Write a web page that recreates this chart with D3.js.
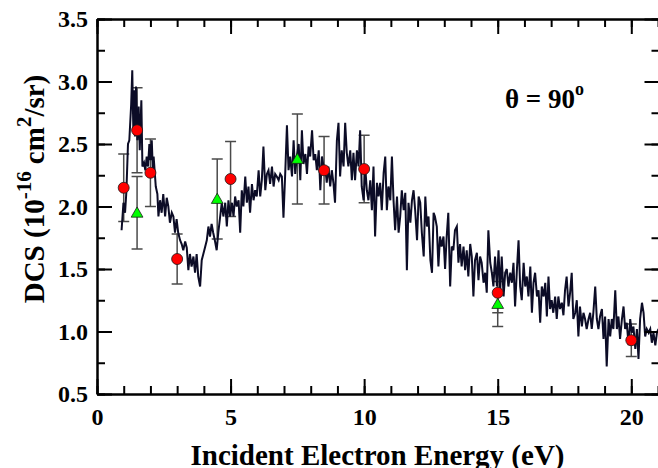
<!DOCTYPE html>
<html lang="en">
<style>
body { margin: 0; background: white; }
svg { display: block; background: white; }
text { font-family: "Liberation Serif", "Times New Roman", serif; font-weight: bold; fill: black; }
.axis path, .axis line { stroke: black; stroke-width: 2px; }
.axis text { font-size: 24px; font-family: "Liberation Serif", "Times New Roman", serif; font-weight: bold; }
.errbar { stroke: #4a4a4a; stroke-width: 1.5px; fill: none; }
</style>
<svg width="658" height="468"></svg>
<script src="https://d3js.org/d3.v7.min.js"></script>
<script>
// measured cross section (noisy curve)
var curveE = [0.92,0.99,1.05,1.10,1.16,1.21,1.28,1.32,1.36,1.39,1.42,1.46,1.51,1.56,1.60,1.66,1.70,1.76,1.81,1.86,
  1.91,1.96,2.00,2.05,2.09,2.12,2.20,2.26,2.30,2.36,2.42,2.48,2.55,2.61,2.67,2.73,2.80,2.86,2.92,2.98,
  3.04,3.11,3.17,3.23,3.30,3.36,3.42,3.48,3.54,3.61,3.67,3.73,3.79,3.86,3.92,3.98,4.04,4.11,4.17,4.23,
  4.29,4.35,4.42,4.48,4.54,4.60,4.67,4.73,4.80,4.86,4.92,4.98,5.05,5.11,5.17,5.23,5.30,5.36,5.42,5.48,
  5.55,5.61,5.67,5.73,5.80,5.86,5.92,5.98,6.05,6.11,6.17,6.23,6.30,6.36,6.42,6.48,6.55,6.61,6.67,6.73,
  6.80,6.86,6.92,6.98,7.05,7.11,7.17,7.23,7.30,7.36,7.42,7.48,7.55,7.61,7.67,7.73,7.80,7.86,7.92,7.98,
  8.05,8.11,8.17,8.23,8.30,8.36,8.42,8.48,8.54,8.60,8.66,8.73,8.79,8.85,8.91,8.98,9.04,9.10,9.16,9.23,
  9.29,9.35,9.41,9.48,9.54,9.60,9.66,9.73,9.79,9.85,9.91,9.98,10.04,10.10,10.16,10.23,10.29,10.35,10.41,10.48,
  10.54,10.60,10.66,10.73,10.79,10.85,10.91,10.98,11.04,11.10,11.16,11.23,11.29,11.35,11.41,11.48,11.54,11.60,11.66,11.73,
  11.79,11.85,11.91,11.98,12.04,12.10,12.16,12.23,12.29,12.35,12.41,12.48,12.54,12.60,12.65,12.72,12.78,12.84,12.90,12.97,
  13.03,13.09,13.15,13.22,13.28,13.34,13.40,13.47,13.53,13.59,13.65,13.72,13.78,13.84,13.90,13.97,14.03,14.09,14.15,14.22,
  14.28,14.34,14.40,14.47,14.53,14.59,14.65,14.72,14.78,14.84,14.90,14.97,15.03,15.09,15.15,15.22,15.28,15.34,15.40,15.47,
  15.53,15.59,15.65,15.72,15.78,15.84,15.90,15.97,16.03,16.09,16.15,16.22,16.28,16.34,16.40,16.47,16.53,16.59,16.65,16.72,
  16.78,16.84,16.90,16.96,17.02,17.08,17.15,17.21,17.27,17.33,17.40,17.46,17.52,17.58,17.65,17.71,17.77,17.83,17.90,17.96,
  18.02,18.08,18.15,18.21,18.27,18.33,18.40,18.46,18.52,18.58,18.65,18.71,18.77,18.83,18.90,18.96,19.02,19.08,19.15,19.21,
  19.27,19.33,19.40,19.46,19.52,19.58,19.65,19.71,19.77,19.83,19.90,19.96,20.02,20.08,20.15,20.21,20.27,20.33,20.40,20.46,
  20.52,20.58,20.65,20.71,20.77,20.83,20.90,20.96,21.02];
var curveDCS = [1.81,2.03,1.95,2.12,2.50,2.53,2.82,3.09,2.61,2.93,2.56,2.96,2.53,2.80,2.45,2.85,2.32,2.35,2.29,2.40,
  2.32,2.50,2.37,2.53,2.29,2.40,2.16,2.10,1.92,2.05,1.95,2.10,1.92,2.07,2.00,1.87,1.95,1.92,1.79,1.90,
  1.79,1.73,1.70,1.65,1.72,1.67,1.49,1.62,1.52,1.60,1.47,1.62,1.44,1.36,1.57,1.62,1.67,1.73,1.84,1.76,
  1.86,1.79,1.72,1.65,1.79,1.90,2.03,1.92,2.03,1.84,2.05,1.92,2.03,1.92,2.08,2.00,2.05,1.79,2.13,2.00,
  2.24,2.03,2.16,1.95,2.18,2.05,2.13,2.08,2.29,2.08,2.21,2.48,2.13,2.26,2.29,2.18,2.32,2.16,2.26,2.24,
  2.21,2.26,2.24,1.91,2.29,2.65,2.29,2.40,2.24,2.53,2.26,2.40,2.50,2.21,2.61,2.34,2.42,2.26,2.48,2.40,
  2.61,2.37,2.42,2.29,2.45,2.13,2.40,2.32,2.32,2.19,2.32,2.16,2.29,2.19,2.03,2.53,2.67,2.24,2.45,2.32,
  2.67,2.43,2.32,2.45,2.21,2.43,2.21,2.45,2.32,2.61,2.16,2.05,2.32,2.13,2.05,2.21,1.97,2.32,1.76,2.19,
  2.08,2.19,1.97,2.27,2.40,1.97,2.16,2.05,2.40,2.05,1.81,2.08,1.79,1.92,2.13,1.97,2.11,1.49,2.03,1.87,
  2.05,2.13,1.97,1.73,2.08,2.03,1.79,1.60,2.08,1.84,1.92,1.57,1.47,1.95,1.92,1.84,1.52,1.76,1.68,1.76,
  1.50,1.76,1.95,1.36,1.68,1.65,1.81,1.84,1.55,1.70,1.52,1.68,1.49,1.65,1.44,1.70,1.60,1.28,1.57,1.63,
  1.41,1.60,1.55,1.39,1.47,1.31,1.81,1.55,1.47,1.36,1.60,1.36,1.65,1.31,1.60,1.28,1.47,1.50,1.36,1.47,
  1.39,1.55,1.20,1.50,1.73,1.36,1.25,1.55,1.36,1.44,1.28,1.52,1.15,1.39,1.47,1.28,1.33,1.07,1.36,1.28,
  1.39,1.12,1.44,1.18,1.25,1.15,1.28,1.10,1.28,1.18,1.23,1.13,1.33,1.44,1.20,1.31,1.47,1.10,1.15,1.25,
  0.96,1.20,1.04,1.15,1.10,1.02,1.10,1.15,1.02,1.15,1.36,1.10,1.02,1.12,1.18,0.94,1.12,0.72,1.10,0.96,
  1.10,1.02,1.33,1.02,1.12,0.94,1.10,1.20,1.02,1.07,0.89,1.10,0.99,1.04,0.86,1.02,0.78,1.10,1.23,1.15,
  0.96,1.02,0.99,1.02,0.91,0.99,0.89,0.99,1.02];

// experimental points, red circles
var redE   = [1, 1.5, 2, 3, 5, 8.5, 10, 15, 20];
var redDCS = [2.15, 2.61, 2.27, 1.58, 2.22, 2.29, 2.30, 1.31, 0.93];
var redErr = [0.27, 0.34, 0.27, 0.20, 0.30, 0.27, 0.27, 0.16, 0.13];

// experimental points, green triangles
var greenE   = [1.5, 4.5, 7.5, 15];
var greenDCS = [1.95, 2.06, 2.38, 1.22];
var greenErr = [0.29, 0.32, 0.36, 0.18];

var xTicks = [0, 5, 10, 15, 20];
var yTicks = [0.5, 1.0, 1.5, 2.0, 2.5, 3.0, 3.5];

var svg = d3.select("svg");
var mLeft = 97, mRight = 658, mTop = 19, mBottom = 394;

var xScale = d3.scaleLinear().domain([0, 21]).range([mLeft, mRight]);
var yScale = d3.scaleLinear().domain([0.5, 3.5]).range([mBottom, mTop]);

svg.append("clipPath").attr("id", "clip")
    .append("rect")
    .attr("x", mLeft).attr("y", mTop)
    .attr("width", mRight - mLeft + 5).attr("height", mBottom - mTop);

var plot = svg.append("g");

function errbars(es, vs, errs) {
    var g = plot.append("g").attr("class", "errbar");
    es.forEach(function(e, i) {
        var x = xScale(e), y0 = yScale(vs[i] - errs[i]), y1 = yScale(vs[i] + errs[i]);
        g.append("line").attr("x1", x).attr("x2", x).attr("y1", y0).attr("y2", y1);
        g.append("line").attr("x1", x - 5.5).attr("x2", x + 5.5).attr("y1", y0).attr("y2", y0);
        g.append("line").attr("x1", x - 5.5).attr("x2", x + 5.5).attr("y1", y1).attr("y2", y1);
    });
}
errbars(redE, redDCS, redErr);
errbars(greenE, greenDCS, greenErr);

var line = d3.line()
    .x(function(d, i) { return xScale(curveE[i]); })
    .y(function(d) { return yScale(d); });

plot.append("path")
    .datum(curveDCS)
    .attr("clip-path", "url(#clip)")
    .attr("fill", "none")
    .attr("stroke", "#0c0c26")
    .attr("stroke-width", 2)
    .attr("d", line);

plot.selectAll("path.tri")
    .data(greenE)
    .enter().append("path")
    .attr("class", "tri")
    .attr("d", d3.symbol().type(d3.symbolTriangle).size(60))
    .attr("transform", function(d, i) { return "translate(" + xScale(d) + "," + (yScale(greenDCS[i]) + 1) + ")"; })
    .attr("fill", "#00ff00")
    .attr("stroke", "#1a1a1a")
    .attr("stroke-width", 0.8);

plot.selectAll("circle")
    .data(redE)
    .enter().append("circle")
    .attr("cx", function(d) { return xScale(d); })
    .attr("cy", function(d, i) { return yScale(redDCS[i]); })
    .attr("r", 5.5)
    .attr("fill", "#ff0000")
    .attr("stroke", "#1a1a1a")
    .attr("stroke-width", 0.8);

// axes: minor ticks first, then major ticks with labels
var xMinor = d3.range(0, 22, 1), yMinor = d3.range(0.5, 3.51, 0.25);

svg.append("g").attr("class", "axis")
    .attr("transform", "translate(0," + mBottom + ")")
    .call(d3.axisBottom(xScale).tickValues(xMinor).tickSize(-8).tickSizeOuter(0).tickFormat(""));
svg.append("g").attr("class", "axis")
    .attr("transform", "translate(0," + mBottom + ")")
    .call(d3.axisBottom(xScale).tickValues(xTicks).tickSize(-15).tickSizeOuter(0).tickPadding(14)
        .tickFormat(d3.format("d")));
svg.append("g").attr("class", "axis")
    .attr("transform", "translate(0," + mTop + ")")
    .call(d3.axisTop(xScale).tickValues(xMinor).tickSize(-8).tickSizeOuter(0).tickFormat(""));
svg.append("g").attr("class", "axis")
    .attr("transform", "translate(0," + mTop + ")")
    .call(d3.axisTop(xScale).tickValues(xTicks).tickSize(-15).tickSizeOuter(0).tickFormat(""));

svg.append("g").attr("class", "axis")
    .attr("transform", "translate(" + mLeft + ",0)")
    .call(d3.axisLeft(yScale).tickValues(yMinor).tickSize(-8).tickSizeOuter(0).tickFormat(""));
svg.append("g").attr("class", "axis")
    .attr("transform", "translate(" + mLeft + ",0)")
    .call(d3.axisLeft(yScale).tickValues(yTicks).tickSize(-15).tickSizeOuter(0).tickPadding(9)
        .tickFormat(d3.format(".1f")));
svg.append("g").attr("class", "axis")
    .attr("transform", "translate(" + (mRight + 1.5) + ",0)")
    .call(d3.axisRight(yScale).tickValues(yMinor).tickSize(-8).tickSizeOuter(0).tickFormat(""));
svg.append("g").attr("class", "axis")
    .attr("transform", "translate(" + (mRight + 1.5) + ",0)")
    .call(d3.axisRight(yScale).tickValues(yTicks).tickSize(-15).tickSizeOuter(0).tickFormat(""));

svg.selectAll(".axis .tick text").attr("fill", "black");

// titles
svg.append("text")
    .attr("x", (mLeft + mRight) / 2)
    .attr("y", 465)
    .attr("text-anchor", "middle")
    .style("font-size", "29px")
    .text("Incident Electron Energy (eV)");

var ylab = svg.append("text")
    .attr("transform", "translate(44,189) rotate(-90)")
    .attr("text-anchor", "middle")
    .style("font-size", "29px");
ylab.append("tspan").text("DCS (10");
ylab.append("tspan").attr("dy", -13).style("font-size", "21px").text("-16");
ylab.append("tspan").attr("dy", 13).text(" cm");
ylab.append("tspan").attr("dy", -13).style("font-size", "21px").text("2");
ylab.append("tspan").attr("dy", 13).text("/sr)");

var theta = svg.append("text")
    .attr("x", 505)
    .attr("y", 108)
    .style("font-size", "27px");
theta.append("tspan").text("\u03b8 = 90");
theta.append("tspan").attr("dy", -13).style("font-size", "18px").text("o");
</script>
